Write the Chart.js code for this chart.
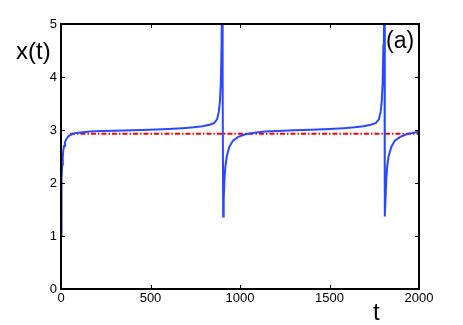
<!DOCTYPE html>
<html>
<head>
<meta charset="utf-8">
<script src="https://cdn.jsdelivr.net/npm/chart.js@4"></script>
<style>
  html, body { margin: 0; padding: 0; background: #fff; }
  #wrap { width: 463px; height: 325px; position: relative; }
</style>
</head>
<body>
<div id="wrap"><canvas id="grafico"></canvas></div>
<script>
// time values and x(t)
const tempos = [0, 2, 4, 7, 10, 13, 17, 22, 30, 41, 55, 78, 110, 160, 230, 300, 400, 500, 600, 680, 740, 790, 830, 855, 872, 882, 888, 893, 897, 900, 902, 904, 906, 909, 913, 918, 926, 940, 961, 990, 1030, 1080, 1140, 1210, 1300, 1400, 1500, 1580, 1640, 1690, 1730, 1758, 1776, 1786, 1792, 1797, 1801, 1804, 1806, 1808, 1810, 1813, 1817, 1822, 1830, 1845, 1865, 1895, 1930, 1970, 2000];
const valoresX = [1.0, 1.6, 2.1, 2.35, 2.5, 2.62, 2.7, 2.77, 2.83, 2.88, 2.91, 2.94, 2.955, 2.97, 2.98, 2.985, 2.995, 3.005, 3.02, 3.035, 3.05, 3.07, 3.1, 3.13, 3.2, 3.35, 3.55, 3.9, 4.6, 6, 7, 4, 1.37, 1.7, 2.05, 2.3, 2.5, 2.68, 2.8, 2.87, 2.92, 2.95, 2.97, 2.98, 2.995, 3.005, 3.02, 3.035, 3.05, 3.07, 3.1, 3.13, 3.2, 3.35, 3.55, 3.9, 4.6, 6, 7, 4, 1.37, 1.7, 2.05, 2.3, 2.5, 2.68, 2.8, 2.87, 2.92, 2.95, 2.965];

// dash-dot reference level
const temposRef = [50, 2000];
const valoresRef = [2.93, 2.93];

const ticksT = [0, 500, 1000, 1500, 2000];
const ticksY = [0, 1, 2, 3, 4, 5];

const fonte = "'Liberation Sans', Arial, sans-serif";

const molduraPlugin = {
  id: 'moldura',
  afterDraw(chart) {
    const ctx = chart.ctx;
    const a = chart.chartArea;
    const sx = chart.scales.x, sy = chart.scales.y;
    ctx.save();
    ctx.strokeStyle = '#000';
    ctx.lineWidth = 1;
    ticksT.forEach(v => {
      const px = Math.round(sx.getPixelForValue(v)) + 0.5;
      ctx.beginPath();
      ctx.moveTo(px, a.bottom); ctx.lineTo(px, a.bottom - 4);
      ctx.moveTo(px, a.top); ctx.lineTo(px, a.top + 4);
      ctx.stroke();
    });
    ticksY.forEach(v => {
      const py = Math.round(sy.getPixelForValue(v)) + 0.5;
      ctx.beginPath();
      ctx.moveTo(a.left, py); ctx.lineTo(a.left + 4, py);
      ctx.moveTo(a.right, py); ctx.lineTo(a.right - 4, py);
      ctx.stroke();
    });
    ctx.lineWidth = 2;
    ctx.strokeRect(a.left, a.top, a.right - a.left, a.bottom - a.top);

    ctx.fillStyle = '#000';
    ctx.textBaseline = 'alphabetic';
    ctx.textAlign = 'left';
    ctx.font = '24px ' + fonte;
    ctx.fillText('x(t)', 16, 59);
    ctx.fillText('t', 373, 320);
    ctx.font = '23px ' + fonte;
    ctx.fillText('(a)', 386, 48);
    ctx.restore();
  }
};

new Chart(document.getElementById('grafico'), {
  type: 'scatter',
  data: {
    datasets: [{
      data: temposRef.map((t, i) => ({ x: t, y: valoresRef[i] })),
      showLine: true,
      borderColor: '#ff0000',
      borderWidth: 2,
      borderDash: [5, 2, 1.5, 2],
      pointRadius: 0,
      order: 2
    }, {
      data: tempos.map((t, i) => ({ x: t, y: valoresX[i] })),
      showLine: true,
      borderColor: '#2a48ff',
      borderWidth: 2,
      pointRadius: 0,
      tension: 0,
      order: 1
    }]
  },
  options: {
    responsive: true,
    maintainAspectRatio: false,
    animation: false,
    layout: { padding: { top: 24, right: 44, left: 0, bottom: 0 } },
    plugins: { legend: { display: false }, tooltip: { enabled: false } },
    scales: {
      x: {
        type: 'linear', min: 0, max: 2000,
        afterBuildTicks: s => { s.ticks = ticksT.map(v => ({ value: v })); },
        afterFit: s => { s.height = 36; },
        grid: { display: false, drawTicks: false },
        border: { display: false },
        ticks: { color: '#000', font: { family: fonte, size: 13 }, padding: 2, maxRotation: 0,
                 callback: v => String(v) }
      },
      y: {
        type: 'linear', min: 0, max: 5,
        afterBuildTicks: s => { s.ticks = ticksY.map(v => ({ value: v })); },
        afterFit: s => { s.width = 61; },
        grid: { display: false, drawTicks: false },
        border: { display: false },
        ticks: { color: '#000', font: { family: fonte, size: 13 }, padding: 4,
                 callback: v => String(v) }
      }
    }
  },
  plugins: [molduraPlugin]
});
</script>
</body>
</html>
